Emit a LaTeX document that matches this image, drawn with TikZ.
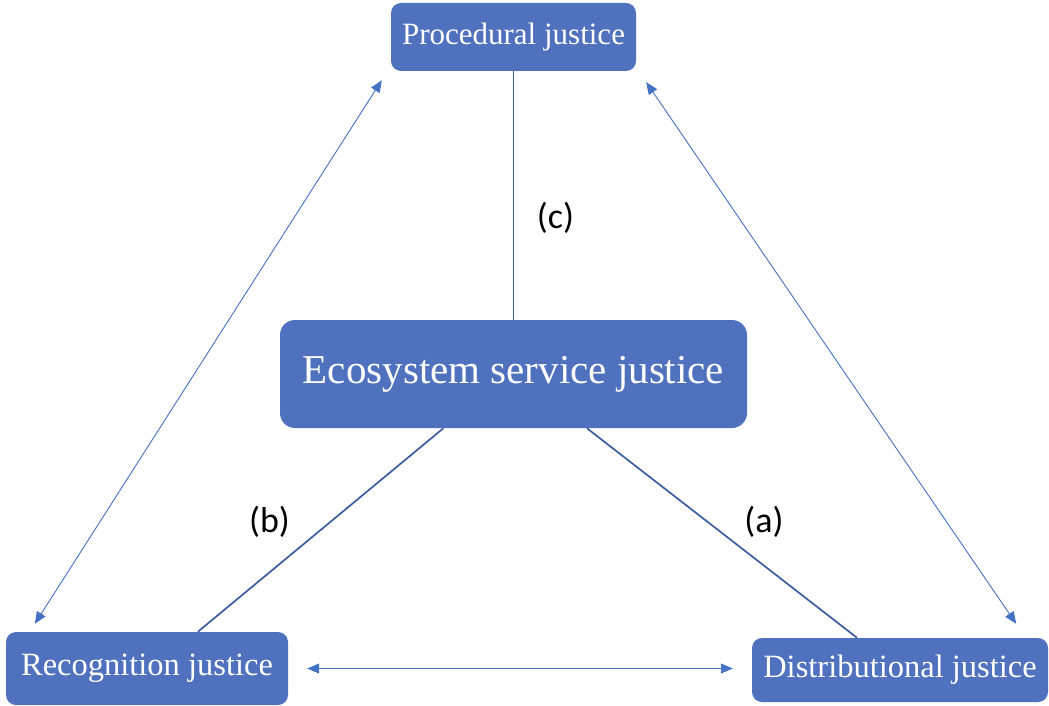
\documentclass[tikz,border=0pt]{standalone}
\usepackage{fontspec}
\setmainfont{Liberation Serif}
\newfontfamily\labelfont{Carlito}
\usepackage{tikz}
\usetikzlibrary{arrows.meta, calc, positioning}
\usepackage{xcolor}
\definecolor{boxblue}{HTML}{4F71BE}
\definecolor{linkblue}{HTML}{3B5C9E}
\definecolor{arrowblue}{HTML}{4472C4}

\begin{document}
\begin{tikzpicture}[x=1pt, y=-1pt]
        \tikzstyle{justice}=[rectangle, rounded corners=10pt, fill=boxblue, text=white, inner sep=0pt, font=\fontsize{31}{33}\selectfont]
        \tikzstyle{link}=[linkblue, line width=1.7pt]
        \tikzstyle{relation}=[arrowblue, line width=0.9pt, {Triangle[length=12pt,width=10pt]}-{Triangle[length=12pt,width=10pt]}]
        \tikzstyle{tag}=[font=\labelfont\fontsize{36}{38}\selectfont, inner sep=0pt]

        \useasboundingbox (0,0) rectangle (1049,706);

        % Justice boxes
        \node[justice, minimum width=245pt, minimum height=68pt] (proc) at (513.5,37) {Procedural justice};
        \node[justice, minimum width=467pt, minimum height=108pt, rounded corners=15pt, font=\fontsize{41}{43}\selectfont] (eco) at (513.5,374) {Ecosystem service justice};
        \node[justice, minimum width=282pt, minimum height=73pt, font=\fontsize{32.5}{34}\selectfont] (rec) at (147,668.5) {Recognition justice};
        \node[justice, minimum width=296pt, minimum height=64pt, font=\fontsize{32.5}{34}\selectfont] (dist) at (900,670) {Distributional justice};

        % Links to the centre
        \draw[link] (proc.south) -- (eco.north);
        \draw[link] ($(eco.south west)!0.35!(eco.south east)$) -- ($(rec.north west)!0.68!(rec.north east)$);
        \draw[link] ($(eco.south west)!0.657!(eco.south east)$) -- ($(dist.north west)!0.355!(dist.north east)$);

        % Labels
        \node[tag] (c) at (555.5,218) {(c)};
        \node[tag] (b) at (269.5,522) {(b)};
        \node[tag] (a) at (764,522) {(a)};

        % Relations between the three dimensions
        \draw[relation] ([xshift=-9pt,yshift=-9pt]proc.south west) -- ([xshift=29pt,yshift=8pt]rec.north west);
        \draw[relation] ([xshift=10pt,yshift=-11pt]proc.south east) -- ([xshift=-32pt,yshift=14pt]dist.north east);
        \draw[relation, shorten <=19pt, shorten >=19pt] (rec.east) -- (rec.east -| dist.west);
    \end{tikzpicture}
\end{document}
